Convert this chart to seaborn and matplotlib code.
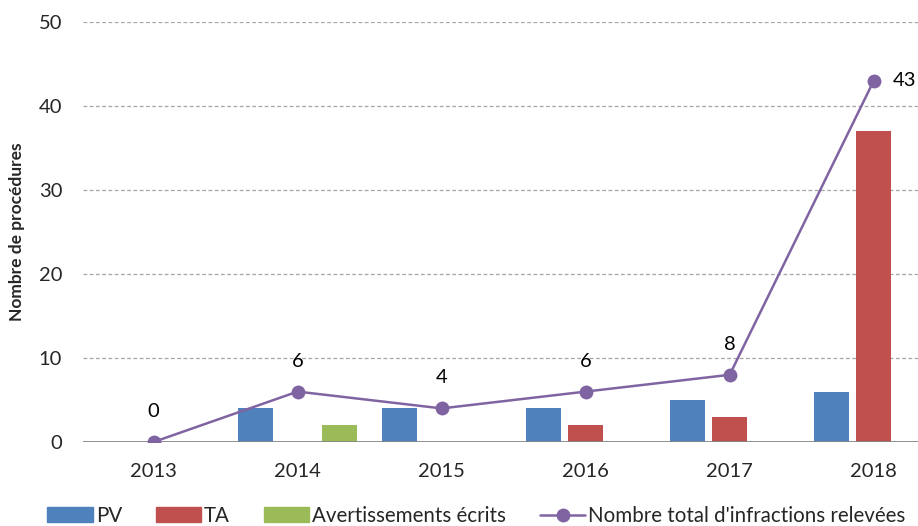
import numpy as np
import pandas as pd
import matplotlib
matplotlib.use("Agg")
import matplotlib.pyplot as plt
import seaborn as sns
from matplotlib.lines import Line2D

years = ["2013", "2014", "2015", "2016", "2017", "2018"]
pv = [0, 4, 4, 4, 5, 6]
ta = [0, 0, 0, 2, 3, 37]
avert = [0, 2, 0, 0, 0, 0]
total = [0, 6, 4, 6, 8, 43]
series = ["PV", "TA", "Avertissements écrits"]
colors = ["#4F81BD", "#C0504D", "#9BBB59"]
line_color = "#8064A2"

df = pd.DataFrame({
    "annee": years * 3,
    "serie": np.repeat(series, len(years)),
    "valeur": pv + ta + avert,
})

sns.set_theme(style="white")
plt.rcParams["font.family"] = ["Lato", "DejaVu Sans"]

fig = plt.figure(figsize=(9.18, 5.26), dpi=100)
ax = fig.add_axes([0.0904, 0.1597, 0.91, 0.7985])

sns.barplot(data=df, x="annee", y="valeur", hue="serie", hue_order=series,
            palette=colors, width=0.875, gap=0.18, linewidth=0,
            saturation=1, ax=ax, legend=False)

x = np.arange(len(years))
sns.lineplot(x=x, y=total, color=line_color, marker="o", markersize=10,
             markeredgewidth=0, linewidth=1.8, ax=ax)

for i, v in enumerate(total):
    if i == len(total) - 1:
        ax.annotate(str(v), (i, v), xytext=(14, 0), textcoords="offset points",
                    ha="left", va="center", fontsize=14.5, color="black")
    else:
        ax.annotate(str(v), (i, v), xytext=(0, 22), textcoords="offset points",
                    ha="center", va="center", fontsize=14.5, color="black")

ax.set_xlim(-0.49, 5.31)
ax.set_ylim(0, 50)
ax.set_yticks(range(0, 51, 10))
for yv in range(10, 51, 10):
    ax.axhline(yv, color="#A6A6A6", linestyle=(0, (3, 2)), linewidth=0.9, zorder=0)
ax.axhline(0, color="#868686", linewidth=1.3, zorder=1)

sns.despine(ax=ax, left=True, bottom=True)
ax.tick_params(axis="both", length=0, labelsize=14.5)
ax.tick_params(axis="x", pad=15)
ax.tick_params(axis="y", pad=15)
ax.set_xlabel("")
ax.set_ylabel("Nombre de procédures", fontsize=12.5, fontweight="bold")
ax.yaxis.set_label_coords(-0.069, 0.5)

handles = [plt.Rectangle((0, 0), 1, 1, color=c) for c in colors]
handles.append(Line2D([0], [0], color=line_color, marker="o", markersize=10,
                      markeredgewidth=0, linewidth=1.8))
fig.legend(handles, series + ["Nombre total d'infractions relevées"],
           loc="lower center", bbox_to_anchor=(0.519, -0.035), ncol=4,
           frameon=False, fontsize=14.8, handlelength=2.2, handleheight=0.75,
           handletextpad=0.15, columnspacing=1.65)

fig.savefig("out.png", dpi=100)
